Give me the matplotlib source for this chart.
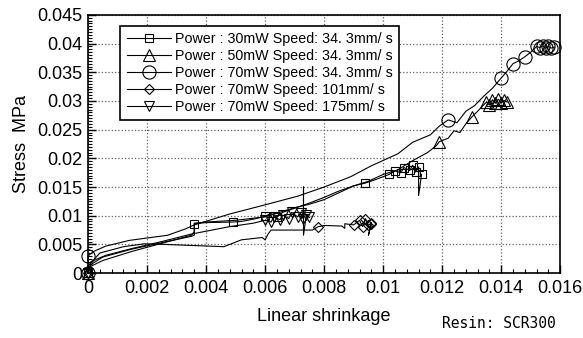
import matplotlib
matplotlib.use("Agg")
import matplotlib.pyplot as plt
from matplotlib.ticker import MultipleLocator

# --- data (linear shrinkage, stress MPa) ---
sq_x = [0, 0.0001, 0.0005, 0.0015, 0.0025, 0.0035, 0.0036, 0.0036, 0.004, 0.0049, 0.0052,
        0.0056, 0.006, 0.0062, 0.0064, 0.0066, 0.007, 0.0075, 0.008, 0.0085, 0.009, 0.0094,
        0.0098, 0.0102, 0.0104, 0.0106, 0.0107, 0.0109, 0.011, 0.0111, 0.0112, 0.0112, 0.0113]
sq_y = [0, 0.0012, 0.0022, 0.0038, 0.0052, 0.0066, 0.0072, 0.0086, 0.0088, 0.0089, 0.009,
        0.0094, 0.0099, 0.0104, 0.0098, 0.0106, 0.0113, 0.0122, 0.0132, 0.0143, 0.0152, 0.0157,
        0.0164, 0.0172, 0.0178, 0.0175, 0.0184, 0.0179, 0.0188, 0.0176, 0.0185, 0.0135, 0.0172]
sq_marks = [0, 7, 9, 12, 14, 21, 23, 24, 25, 26, 27, 28, 29, 30, 32]

tri_x = [0, 0.0001, 0.0005, 0.0015, 0.0025, 0.0035, 0.0036, 0.0036, 0.004, 0.005, 0.006,
         0.0065, 0.007, 0.0075, 0.008, 0.0085, 0.009, 0.0095, 0.01, 0.0105, 0.011, 0.0115,
         0.0118, 0.0119, 0.0122, 0.0124, 0.0126, 0.0128, 0.013, 0.0132, 0.0134, 0.0135,
         0.0136, 0.0137, 0.0138, 0.0139, 0.014, 0.0141, 0.0142]
tri_y = [0, 0.0015, 0.0028, 0.0042, 0.0053, 0.0064, 0.0066, 0.0087, 0.0089, 0.0092, 0.0098,
         0.0106, 0.0114, 0.012, 0.0128, 0.014, 0.0152, 0.016, 0.0172, 0.018, 0.0196, 0.021,
         0.0222, 0.0229, 0.0235, 0.0248, 0.0245, 0.026, 0.0272, 0.0282, 0.0293, 0.0298,
         0.0293, 0.0302, 0.0296, 0.0303, 0.0297, 0.0301, 0.0298]
tri_marks = [0, 23, 28, 31, 32, 33, 34, 35, 36, 37, 38]

cir_x = [0, 0, 0.0002, 0.0006, 0.0014, 0.0027, 0.0033, 0.0036, 0.0048, 0.006, 0.0071, 0.008,
         0.0089, 0.0096, 0.0105, 0.011, 0.0116, 0.0119, 0.0122, 0.0125, 0.0128, 0.0131,
         0.0134, 0.0137, 0.014, 0.0142, 0.0144, 0.0146, 0.0148, 0.015, 0.0152, 0.0153,
         0.0154, 0.0155, 0.0156, 0.0157, 0.0158]
cir_y = [0, 0.003, 0.0038, 0.0047, 0.0057, 0.0066, 0.0077, 0.0084, 0.0103, 0.0119, 0.0134,
         0.015, 0.0168, 0.0187, 0.0208, 0.0228, 0.0241, 0.0256, 0.0267, 0.0262, 0.0282,
         0.0292, 0.0308, 0.0322, 0.034, 0.0352, 0.0365, 0.037, 0.0377, 0.0385, 0.0395,
         0.0393, 0.0396, 0.0392, 0.0395, 0.0392, 0.0394]
cir_marks = [0, 1, 18, 24, 26, 28, 30, 31, 32, 33, 34, 35, 36]

dia_x = [0, 0.0001, 0.0004, 0.0012, 0.0019, 0.0026, 0.0046, 0.0052, 0.0059, 0.006, 0.0061,
         0.0062, 0.0076, 0.0078, 0.008, 0.0086, 0.0087, 0.0087, 0.009, 0.0092, 0.0093,
         0.0094, 0.0095, 0.0096, 0.0095, 0.0096]
dia_y = [0, 0.0018, 0.0035, 0.0046, 0.0051, 0.005, 0.0046, 0.0058, 0.0062, 0.0058, 0.0068,
         0.0075, 0.0075, 0.0081, 0.0083, 0.0082, 0.0078, 0.0086, 0.0084, 0.0092, 0.0081,
         0.0095, 0.0083, 0.0088, 0.0066, 0.0085]
dia_marks = [0, 13, 18, 19, 20, 21, 22, 23, 25]

itri_x = [0, 0.0001, 0.0006, 0.0015, 0.0025, 0.0035, 0.0048, 0.0056, 0.006, 0.0062, 0.0063,
          0.0065, 0.0066, 0.0068, 0.0069, 0.0071, 0.0072, 0.0073, 0.0073, 0.0073, 0.0074, 0.0075]
itri_y = [0, 0.002, 0.0031, 0.0043, 0.0055, 0.0068, 0.0081, 0.0087, 0.0092, 0.0089, 0.0098,
          0.0093, 0.0101, 0.0095, 0.0106, 0.0098, 0.0104, 0.0094, 0.015, 0.0066, 0.0102, 0.0097]
itri_marks = [0, 8, 9, 10, 11, 12, 13, 14, 15, 16, 17, 20, 21]

labels = ["Power : 30mW Speed: 34. 3mm/ s",
          "Power : 50mW Speed: 34. 3mm/ s",
          "Power : 70mW Speed: 34. 3mm/ s",
          "Power : 70mW Speed: 101mm/ s",
          "Power : 70mW Speed: 175mm/ s"]

plt.rcParams['font.family'] = ['Liberation Sans', 'DejaVu Sans']

fig = plt.figure(figsize=(5.83, 3.38), dpi=100)
ax = fig.add_axes([0.151, 0.192, 0.81, 0.764])

series = [(sq_x, sq_y, 's', 6, sq_marks), (tri_x, tri_y, '^', 8, tri_marks),
          (cir_x, cir_y, 'o', 9.5, cir_marks), (dia_x, dia_y, 'D', 5.5, dia_marks),
          (itri_x, itri_y, 'v', 6.5, itri_marks)]
for (xs, ys, m, ms, mk), lab in zip(series, labels):
    ax.plot(xs, ys, color='black', lw=0.8, marker=m, ms=ms, mfc='none', mec='black',
            mew=0.8, markevery=mk, label=lab, clip_on=False, zorder=3)

ax.set_xlim(0, 0.016)
ax.set_ylim(0, 0.045)
ax.xaxis.set_major_locator(MultipleLocator(0.002))
ax.xaxis.set_minor_locator(MultipleLocator(0.0004))
ax.yaxis.set_major_locator(MultipleLocator(0.005))
ax.yaxis.set_minor_locator(MultipleLocator(0.0005))
ax.xaxis.set_major_formatter(plt.FuncFormatter(lambda v, p: f"{v:g}"))
ax.yaxis.set_major_formatter(plt.FuncFormatter(lambda v, p: f"{v:g}"))
ax.tick_params(which='both', direction='in', labelsize=13, colors='black')
ax.tick_params(which='major', length=6, width=1)
ax.tick_params(which='minor', length=3, width=0.8)
ax.tick_params(axis='x', pad=5)
ax.tick_params(axis='y', pad=4)
ax.grid(True, which='major', linestyle=':', color='#606060', lw=0.9)
for s in ax.spines.values():
    s.set_linewidth(1.2)

ax.set_ylabel("Stress  MPa", fontsize=13, labelpad=5)
ax.set_xlabel("Linear shrinkage", fontsize=13, labelpad=8)
fig.text(442 / 583, 1 - 323 / 338, "Resin: SCR300", family="DejaVu Sans Mono",
         fontsize=10.5, va='center', ha='left')

leg = ax.legend(loc='upper left', bbox_to_anchor=(0.068, 0.957), borderaxespad=0,
                frameon=True, fancybox=False, edgecolor='black', framealpha=1,
                handlelength=3.1, handletextpad=0.3, labelspacing=0.2, borderpad=0.45,
                prop={'size': 10.3})
leg.get_frame().set_linewidth(1.2)

fig.savefig("out.png", dpi=100)
